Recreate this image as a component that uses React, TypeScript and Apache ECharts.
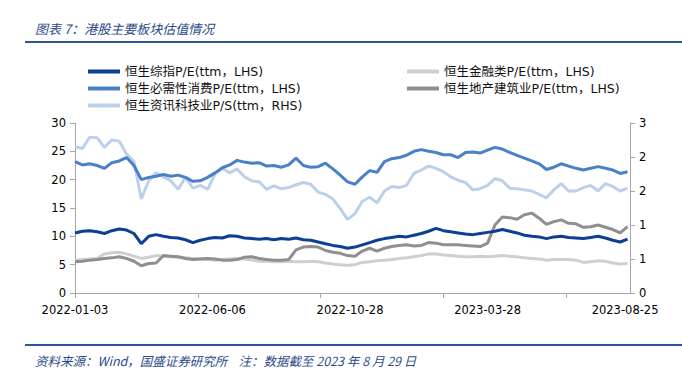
import React, { useEffect, useRef } from "react";
import * as echarts from "echarts";

// trading-day index of each sampled point (x axis)
const dayIndex = [
  0, 6, 12, 18, 24, 30, 36, 42, 48, 54,
  60, 66, 72, 78, 84, 90, 96, 102, 108, 114,
  120, 126, 132, 138, 144, 150, 156, 162, 168, 174,
  180, 186, 192, 198, 204, 210, 216, 222, 228, 234,
  240, 246, 252, 258, 264, 270, 276, 282, 288, 294,
  300, 306, 312, 318, 324, 330, 336, 342, 348, 354,
  360, 366, 372, 378, 384, 390, 396, 402, 408, 414,
  420, 426, 432, 438, 444, 450,
];

// 恒生综指 P/E (LHS)
const hsciPE = [
  10.6, 10.9, 11.0, 10.8, 10.5, 11.0, 11.3, 11.1, 10.5, 8.7,
  10.0, 10.3, 10.0, 9.8, 9.7, 9.4, 8.9, 9.3, 9.6, 9.8,
  9.7, 10.1, 10.0, 9.7, 9.6, 9.5, 9.6, 9.4, 9.6, 9.5,
  9.7, 9.4, 9.3, 9.0, 8.7, 8.4, 8.2, 7.9, 8.1, 8.5,
  8.9, 9.3, 9.6, 9.8, 10.0, 9.9, 10.2, 10.5, 10.9, 11.4,
  11.0, 10.8, 10.6, 10.4, 10.3, 10.5, 10.7, 10.9, 11.2, 10.9,
  10.6, 10.2, 10.0, 9.9, 9.6, 9.9, 10.0, 9.8, 9.7, 9.6,
  9.8, 10.0, 9.7, 9.3, 9.0, 9.5,
];

// 恒生必需性消费 P/E (LHS)
const staplesPE = [
  23.2, 22.6, 22.8, 22.5, 22.0, 23.0, 23.3, 23.9, 22.5, 20.0,
  20.4, 20.6, 20.9, 20.6, 20.8, 20.4, 19.7, 19.8, 20.4, 21.2,
  22.1, 22.6, 23.4, 23.1, 22.9, 23.0, 22.4, 22.5, 22.2, 22.6,
  23.8, 22.5, 22.2, 22.3, 22.9, 21.9, 20.8, 19.6, 19.2, 20.5,
  21.6, 21.3, 23.2, 23.7, 23.9, 24.3, 25.0, 25.3, 25.0, 24.8,
  24.4, 24.4, 23.9, 24.8, 24.9, 24.7, 25.2, 25.7, 25.4, 24.8,
  24.3, 23.8, 23.3, 22.8, 21.8, 22.2, 22.8, 22.4, 22.0, 21.7,
  22.0, 22.3, 22.0, 21.7, 21.1, 21.4,
];

// 恒生资讯科技业 P/S (RHS)
const techPS = [
  2.58, 2.55, 2.75, 2.74, 2.57, 2.70, 2.68, 2.45, 2.32, 1.66,
  1.98, 2.12, 2.05, 1.98, 1.83, 2.04, 1.85, 1.90, 1.83, 2.10,
  2.20, 2.12, 2.19, 2.05, 1.98, 1.96, 1.83, 1.89, 1.84, 1.86,
  1.91, 1.95, 1.92, 1.78, 1.74, 1.66, 1.49, 1.30, 1.40, 1.62,
  1.69, 1.59, 1.80, 1.88, 1.86, 1.90, 2.11, 2.17, 2.24, 2.20,
  2.14, 2.05, 1.99, 1.95, 1.82, 1.84, 1.90, 2.02, 1.98, 1.85,
  1.84, 1.82, 1.80, 1.74, 1.68, 1.82, 1.93, 1.80, 1.80, 1.86,
  1.90, 1.80, 1.93, 1.88, 1.80, 1.85,
];

// 恒生金融类 P/E (LHS)
const financePE = [
  5.8, 5.9, 6.0, 6.1, 6.9, 7.1, 7.2, 6.9, 6.5, 6.1,
  6.3, 6.6, 6.5, 6.4, 6.3, 6.2, 6.1, 6.0, 5.9, 5.8,
  5.9, 6.0, 6.1, 6.0, 5.8, 5.6, 5.6, 5.5, 5.5, 5.6,
  5.5, 5.5, 5.6, 5.5, 5.3, 5.1, 5.0, 4.9, 5.0, 5.4,
  5.5, 5.7, 5.8, 5.9, 6.1, 6.2, 6.4, 6.6, 6.9, 6.9,
  6.7, 6.6, 6.5, 6.4, 6.4, 6.5, 6.4, 6.5, 6.6, 6.5,
  6.4, 6.2, 6.1, 6.0, 5.8, 5.9, 5.9, 5.9, 5.8, 5.4,
  5.5, 5.7, 5.6, 5.3, 5.1, 5.2,
];

// 恒生地产建筑业 P/E (LHS)
const propertyPE = [
  5.5, 5.6, 5.8, 5.9, 6.1, 6.2, 6.4, 6.1, 5.6, 4.8,
  5.2, 5.3, 6.6, 6.5, 6.4, 6.1, 5.9, 6.0, 6.1, 6.0,
  5.8, 5.8, 5.9, 6.3, 6.4, 6.1, 5.9, 5.8, 5.8, 5.9,
  7.6, 8.1, 8.2, 8.1, 7.5, 7.2, 7.0, 6.6, 6.5, 7.4,
  7.9, 7.4, 7.9, 8.2, 8.4, 8.5, 8.3, 8.4, 8.9, 8.8,
  8.5, 8.5, 8.5, 8.4, 8.3, 8.2, 8.8, 12.0, 13.4, 13.3,
  13.0, 13.8, 14.1, 13.2, 12.1, 12.6, 12.9, 12.3, 12.2, 11.6,
  11.7, 12.0, 11.6, 11.2, 10.6, 11.7,
];

const xTickPos = [0, 100, 200, 300, 400];
const xLabelPos = [0, 112, 224, 336, 448];
const xTickLabels = ["2022-01-03", "2022-06-06", "2022-10-28", "2023-03-28", "2023-08-25"];

const seriesNames = [
  "恒生综指P/E(ttm，LHS)",
  "恒生必需性消费P/E(ttm，LHS)",
  "恒生资讯科技业P/S(ttm，RHS)",
  "恒生金融类P/E(ttm，LHS)",
  "恒生地产建筑业P/E(ttm，LHS)",
];
const seriesColors = ["#0d3f94", "#4a80c8", "#bcd0ea", "#cfcfcf", "#8f8f8f"];

const FONT = "'DejaVu Sans', 'Noto Sans CJK SC', sans-serif";
const CJK = "'Noto Sans CJK SC', 'DejaVu Sans', sans-serif";

export default function App() {
  const ref = useRef<HTMLDivElement>(null);
  useEffect(() => {
    document.body.style.margin = "0";
    const chart = echarts.init(ref.current!, null, { renderer: "svg" });
    const pair = (vals: number[]) => dayIndex.map((d, i) => [d, vals[i]]);
    const allData = [hsciPE, staplesPE, techPS, financePE, propertyPE];
    const axisColor = "#a6a6a6";
    const labelStyle = { color: "#000", fontSize: 11.5, fontFamily: FONT };
    const legendText = { color: "#111", fontSize: 12.5, fontFamily: FONT, lineHeight: 15 };
    chart.setOption({
      animation: false,
      backgroundColor: "#fff",
      grid: { left: 75, right: 52, top: 123, bottom: 83 },
      legend: [
        {
          left: 88, top: 64, orient: "vertical", padding: 0, itemGap: 2,
          itemWidth: 32, itemHeight: 4, icon: "rect",
          data: [seriesNames[0], seriesNames[1], seriesNames[2]],
          textStyle: legendText,
        },
        {
          left: 407, top: 64, orient: "vertical", padding: 0, itemGap: 2,
          itemWidth: 32, itemHeight: 4, icon: "rect",
          data: [seriesNames[3], seriesNames[4]],
          textStyle: legendText,
        },
      ],
      xAxis: {
        type: "value", min: 0, max: 452,
        splitLine: { show: false },
        axisLine: { show: true, lineStyle: { color: axisColor, width: 1 } },
        axisTick: { show: true, length: 5, customValues: xTickPos, lineStyle: { color: axisColor } },
        axisLabel: {
          ...labelStyle,
          margin: 11,
          customValues: xLabelPos,
          formatter: (v: number) => {
            const k = xLabelPos.indexOf(Math.round(v));
            return k < 0 ? "" : xTickLabels[k];
          },
        },
      },
      yAxis: [
        {
          type: "value", min: 0, max: 30, interval: 5,
          splitLine: { show: false },
          axisLine: { show: true, lineStyle: { color: axisColor } },
          axisTick: { show: true, length: 5, lineStyle: { color: axisColor } },
          axisLabel: { ...labelStyle, margin: 9 },
        },
        {
          type: "value", min: 0, max: 3, interval: 0.6, position: "right",
          splitLine: { show: false },
          axisLine: { show: true, lineStyle: { color: axisColor } },
          axisTick: { show: true, length: 5, lineStyle: { color: axisColor } },
          axisLabel: { ...labelStyle, margin: 9, formatter: (v: number) => String(Math.round(v)) },
        },
      ],
      series: seriesNames.map((name, i) => ({
        name,
        type: "line",
        yAxisIndex: i === 2 ? 1 : 0,
        showSymbol: false,
        symbol: "none",
        color: seriesColors[i],
        lineStyle: { width: 3, color: seriesColors[i] },
        data: pair(allData[i]),
        z: [5, 4, 2, 1, 3][i],
      })),
      graphic: [
        { type: "line", shape: { x1: 25, y1: 42, x2: 682, y2: 42 }, style: { stroke: "#2f5597", lineWidth: 2 } },
        {
          type: "text", x: 35, y: 28,
          style: { text: "图表 7：港股主要板块估值情况", fill: "#2a4a8c", fontSize: 13, fontFamily: CJK, fontStyle: "italic", verticalAlign: "middle" },
        },
        { type: "line", shape: { x1: 25, y1: 345, x2: 682, y2: 345 }, style: { stroke: "#2f5597", lineWidth: 2 } },
        {
          type: "text", x: 35, y: 360,
          style: { text: "资料来源：Wind，国盛证券研究所    注：数据截至 2023 年 8 月 29 日", fill: "#2a4a8c", fontSize: 12.5, fontFamily: CJK, fontStyle: "italic", verticalAlign: "middle" },
        },
      ],
    });
    return () => chart.dispose();
  }, []);
  return <div ref={ref} style={{ width: 682, height: 376, position: "absolute", left: 0, top: 0 }} />;
}
